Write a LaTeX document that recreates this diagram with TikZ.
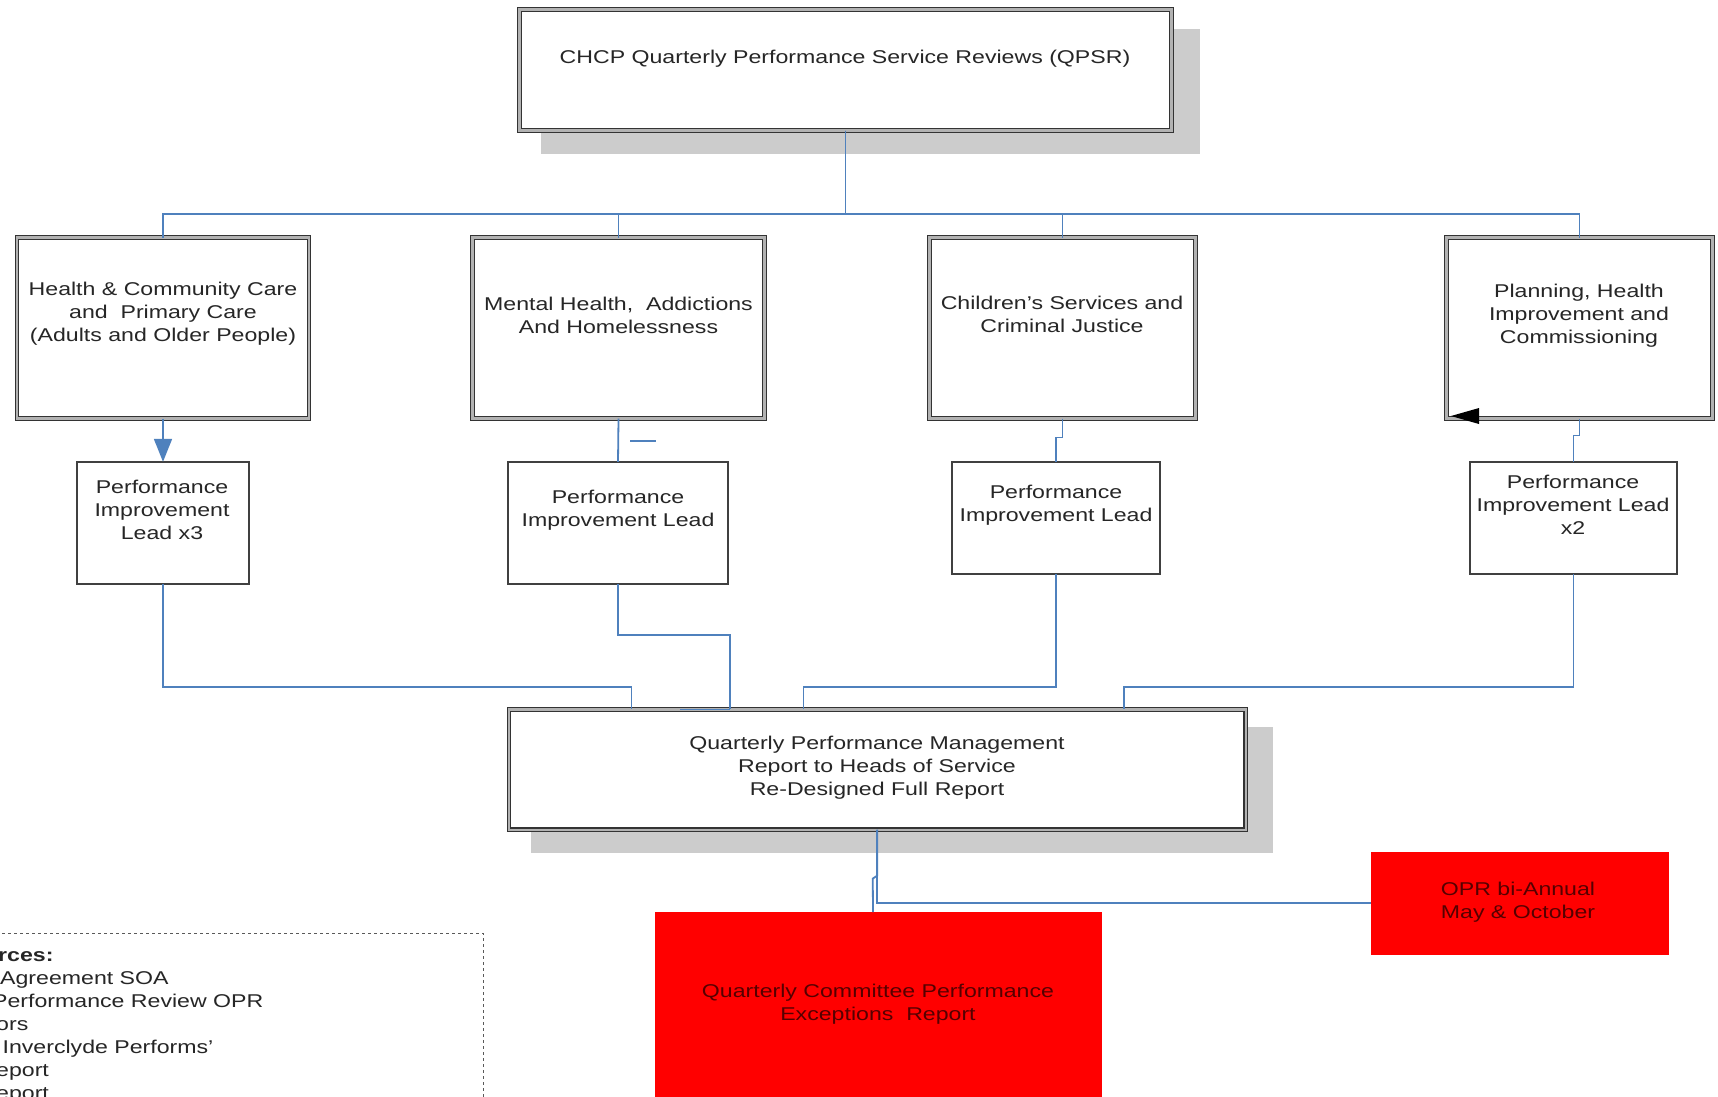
\documentclass[tikz,border=0pt]{standalone}
\usepackage{fontspec}
\setmainfont[FakeStretch=1.25]{Liberation Sans}
\usetikzlibrary{arrows.meta,calc}
\definecolor{lineblue}{RGB}{79,129,189}
\definecolor{shadowgray}{RGB}{204,204,204}
\definecolor{txtred}{RGB}{85,0,0}
\begin{document}
\begin{tikzpicture}[x=1pt,y=-1pt,
 dbox/.style={draw=black!80, double=black!30, line width=1.3pt, double distance=2.2pt, fill=white, inner sep=0pt, outer sep=0pt, rectangle},
 sbox/.style={draw=black!75, line width=1.6pt, fill=white, inner sep=0pt, outer sep=0pt, rectangle},
 redbox/.style={fill=red, inner sep=0pt, outer sep=0pt, rectangle},
 shadowfill/.style={fill=shadowgray},
 conn/.style={draw=lineblue, line width=1.8pt},
 txt/.style={font=\fontsize{18.5}{23}\selectfont, align=center, text=black!85, inner sep=0pt},
 redtxt/.style={txt, text=txtred},
 legtxt/.style={font=\fontsize{18.5}{23}\selectfont, text=black!85, inner sep=0pt, anchor=base west},
 legendline/.style={draw=black!65, line width=1pt, dash pattern=on 3pt off 3pt},
]
\useasboundingbox (0,0) rectangle (1718,1096);
\clip (0,0) rectangle (1718,1096);
\fill[white] (0,0) rectangle (1718,1096);

% shadows
\path[shadowfill] (541,29) rectangle (1200,154);
\path[shadowfill] (531,727) rectangle (1273,853);

% boxes
\node[dbox, minimum width=652pt, minimum height=121pt] (top) at (845.5,70) {};
\node[dbox, minimum width=292pt, minimum height=181pt] (b1) at (163,328) {};
\node[dbox, minimum width=292pt, minimum height=181pt] (b2) at (618.5,328) {};
\node[dbox, minimum width=266pt, minimum height=181pt] (b3) at (1062.5,328) {};
\node[dbox, minimum width=266pt, minimum height=181pt] (b4) at (1579.5,328) {};
\node[sbox, minimum width=172.4pt, minimum height=122.4pt] (p1) at (163,523) {};
\node[sbox, minimum width=220.4pt, minimum height=122.4pt] (p2) at (618,523) {};
\node[sbox, minimum width=208.4pt, minimum height=112.4pt] (p3) at (1056,518) {};
\node[sbox, minimum width=207.4pt, minimum height=112.4pt] (p4) at (1573.5,518) {};
\node[dbox, minimum width=736.7pt, minimum height=120.2pt] (qpm) at (877.25,769.5) {};
\node[redbox, minimum width=298pt, minimum height=103pt] (opr) at (1520,903) {};
\node[redbox, minimum width=447pt, minimum height=200pt] (rep) at (878.5,1012) {};

% texts
\node[txt] (ttop) at (845,59) {CHCP Quarterly Performance Service Reviews (QPSR)};
\node[txt] (tb1) at (163,314) {Health \& Community Care\\and~ Primary Care\\(Adults and Older People)};
\node[txt] (tb2) at (618.5,315) {Mental Health,~ Addictions\\And Homelessness};
\node[txt] (tb3) at (1062,314) {Children’s Services and\\Criminal Justice};
\node[txt] (tb4) at (1579,316) {Planning, Health\\Improvement and\\Commissioning};
\node[txt] (tp1) at (162,510) {Performance\\Improvement\\Lead x3};
\node[txt] (tp2) at (618,510) {Performance\\Improvement Lead};
\node[txt] (tp3) at (1056,505) {Performance\\Improvement Lead};
\node[txt] (tp4) at (1573,505) {Performance\\Improvement Lead\\x2};
\node[txt] (tqpm) at (877,768) {Quarterly Performance Management\\Report to Heads of Service\\Re-Designed Full Report};
\node[redtxt] (topr) at (1518,902) {OPR bi-Annual\\May \& October};
\node[redtxt] (trep) at (878,1004) {Quarterly Committee Performance\\Exceptions~ Report};

% connectors top level
\coordinate (bus) at (0,214);
\draw[conn] (top.south) -- (top.south |- bus) -| (b1.north);
\draw[conn] (top.south) -- (top.south |- bus) -| (b2.north);
\draw[conn] (top.south) -- (top.south |- bus) -| (b3.north);
\draw[conn] (top.south) -- (top.south |- bus) -| (b4.north);

% level 2 -> level 3
\draw[conn, -{Triangle[length=23pt,width=18pt]}] (b1.south) -- (p1.north);
\draw[conn] (b2.south) -- (p2.north);
\coordinate (s1) at (630,440.7);
\coordinate (s2) at (656,440.7);
\draw[conn] (s1) -- (s2);
\draw[conn] (b3.south) -- ++(0,19) -| (p3.north);
\draw[conn] (b4.south) -- ++(0,17) -| (p4.north);

% level 3 -> QPM
\coordinate (lane) at (0,687);
\coordinate (x1) at (631.5,0);
\coordinate (x2) at (730,0);
\coordinate (x2b) at (680,0);
\coordinate (x3) at (803.5,0);
\coordinate (x4) at (1124,0);
\coordinate (x5) at (873,0);
\draw[conn] (p1.south) |- (x1 |- lane) -- (x1 |- qpm.north);
\draw[conn] (p2.south) -- ++(0,51) -| (x2 |- qpm.north);
\draw[conn] (x2b |- qpm.north) -- (x2 |- qpm.north);
\draw[conn] (p3.south) |- (x3 |- lane) -- (x3 |- qpm.north);
\draw[conn] (p4.south) |- (x4 |- lane) -- (x4 |- qpm.north);

% QPM -> reports
\draw[conn] (qpm.south) |- (opr.west);
\draw[conn] (qpm.south) -- ++(0,46) -- ++(-4.5,3) -- (x5 |- rep.north);

% black arrowhead in Planning box
\fill[black] (1451,416) -- (1479,408) -- (1479,424) -- cycle;

% legend
\draw[legendline] (-10,933) -- (483,933) -- (483,1110);
\node[legtxt, font=\fontsize{18.5}{23}\selectfont\bfseries] (l1) at (-2,961) {rces:};
\node[legtxt] (l2) at (0,984) {Agreement SOA};
\node[legtxt] (l3) at (-8,1007) {Performance Review OPR};
\node[legtxt] (l4) at (-4,1030) {ors};
\node[legtxt] (l5) at (-4,1053) {~Inverclyde Performs’};
\node[legtxt] (l6) at (-4,1076) {eport};
\node[legtxt] (l7) at (-4,1099) {eport};
\end{tikzpicture}
\end{document}
